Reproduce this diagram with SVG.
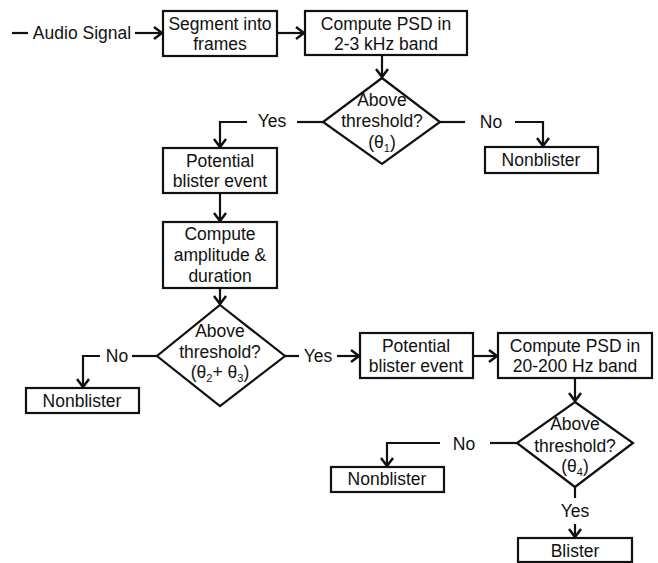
<svg xmlns="http://www.w3.org/2000/svg" width="658" height="563" viewBox="0 0 658 563">
<style>
text{font-family:"Liberation Sans",Arial,sans-serif;font-size:17.5px;fill:#111;text-anchor:middle}
.b{fill:#fff;stroke:#111;stroke-width:2.2}
.c{fill:none;stroke:#111;stroke-width:2.2}
.s{font-size:11px}
</style>
<defs>
<marker id="a" viewBox="-10 -7 12 14" markerWidth="12" markerHeight="14" refX="0" refY="0" orient="auto" markerUnits="userSpaceOnUse">
<path d="M-8,-6 L0,0 L-8,6" fill="none" stroke="#111" stroke-width="2.5"/>
</marker>
</defs>
<rect width="658" height="563" fill="#fff"/>
<g id="connectors">
<path class="c" d="M12,33 H28"/>
<path class="c" d="M135,33 H162" marker-end="url(#a)"/>
<path class="c" d="M277,33 H304" marker-end="url(#a)"/>
<path class="c" d="M382,55 V77" marker-end="url(#a)"/>
<path class="c" d="M440,122 H465"/>
<path class="c" d="M515,122 H543 V146" marker-end="url(#a)"/>
<path class="c" d="M323,122 H297"/>
<path class="c" d="M247,122 H220 V147" marker-end="url(#a)"/>
<path class="c" d="M220,193 V221" marker-end="url(#a)"/>
<path class="c" d="M220,288 V304" marker-end="url(#a)"/>
<path class="c" d="M157,356 H132"/>
<path class="c" d="M100,356 H83 V387" marker-end="url(#a)"/>
<path class="c" d="M285,356 H299"/>
<path class="c" d="M337,356 H359" marker-end="url(#a)"/>
<path class="c" d="M473,356 H497" marker-end="url(#a)"/>
<path class="c" d="M575,378 V401" marker-end="url(#a)"/>
<path class="c" d="M517,443 H490"/>
<path class="c" d="M440,443 H387 V466" marker-end="url(#a)"/>
<path class="c" d="M575,487 V498"/>
<path class="c" d="M575,524 V537" marker-end="url(#a)"/>
<text x="272" y="127">Yes</text>
<text x="491" y="128">No</text>
<text x="117" y="362">No</text>
<text x="318" y="362">Yes</text>
<text x="464" y="450">No</text>
<text x="575" y="517">Yes</text>
</g>
<g id="input"><text x="82" y="39">Audio Signal</text></g>
<g id="segment"><rect class="b" x="163" y="11" width="114" height="45"/><text x="220" y="30">Segment into</text><text x="220" y="50">frames</text></g>
<g id="psd1"><rect class="b" x="305" y="11" width="162" height="44"/><text x="386" y="30">Compute PSD in</text><text x="386" y="50">2-3 kHz band</text></g>
<g id="dec1"><path class="b" d="M382,78 L440,122 L382,164 L323,122 Z"/><text x="382" y="106">Above</text><text x="382" y="127">threshold?</text><text x="382" y="148">(θ<tspan class="s" dy="4">1</tspan><tspan dy="-4">)</tspan></text></g>
<g id="nb1"><rect class="b" x="485" y="147" width="113" height="26"/><text x="541" y="166">Nonblister</text></g>
<g id="pot1"><rect class="b" x="163" y="148" width="114" height="45"/><text x="220" y="167">Potential</text><text x="220" y="187">blister event</text></g>
<g id="amp"><rect class="b" x="163" y="222" width="114" height="66"/><text x="220" y="240">Compute</text><text x="220" y="261">amplitude &amp;</text><text x="220" y="282">duration</text></g>
<g id="dec2"><path class="b" d="M220,305 L285,356 L220,406 L157,356 Z"/><text x="220" y="337">Above</text><text x="220" y="358">threshold?</text><text x="220" y="378">(θ<tspan class="s" dy="4">2</tspan><tspan dy="-4">+ θ</tspan><tspan class="s" dy="4">3</tspan><tspan dy="-4">)</tspan></text></g>
<g id="nb2"><rect class="b" x="26" y="388" width="113" height="25"/><text x="82" y="407">Nonblister</text></g>
<g id="pot2"><rect class="b" x="360" y="333" width="113" height="45"/><text x="416" y="352">Potential</text><text x="416" y="372">blister event</text></g>
<g id="psd2"><rect class="b" x="498" y="333" width="154" height="45"/><text x="575" y="352">Compute PSD in</text><text x="575" y="372">20-200 Hz band</text></g>
<g id="dec3"><path class="b" d="M575,402 L633,443 L575,487 L517,443 Z"/><text x="575" y="430">Above</text><text x="575" y="452">threshold?</text><text x="575" y="472">(θ<tspan class="s" dy="4">4</tspan><tspan dy="-4">)</tspan></text></g>
<g id="nb3"><rect class="b" x="331" y="467" width="113" height="25"/><text x="387" y="485">Nonblister</text></g>
<g id="blister"><rect class="b" x="518" y="538" width="114" height="24"/><text x="575" y="557">Blister</text></g>
</svg>
